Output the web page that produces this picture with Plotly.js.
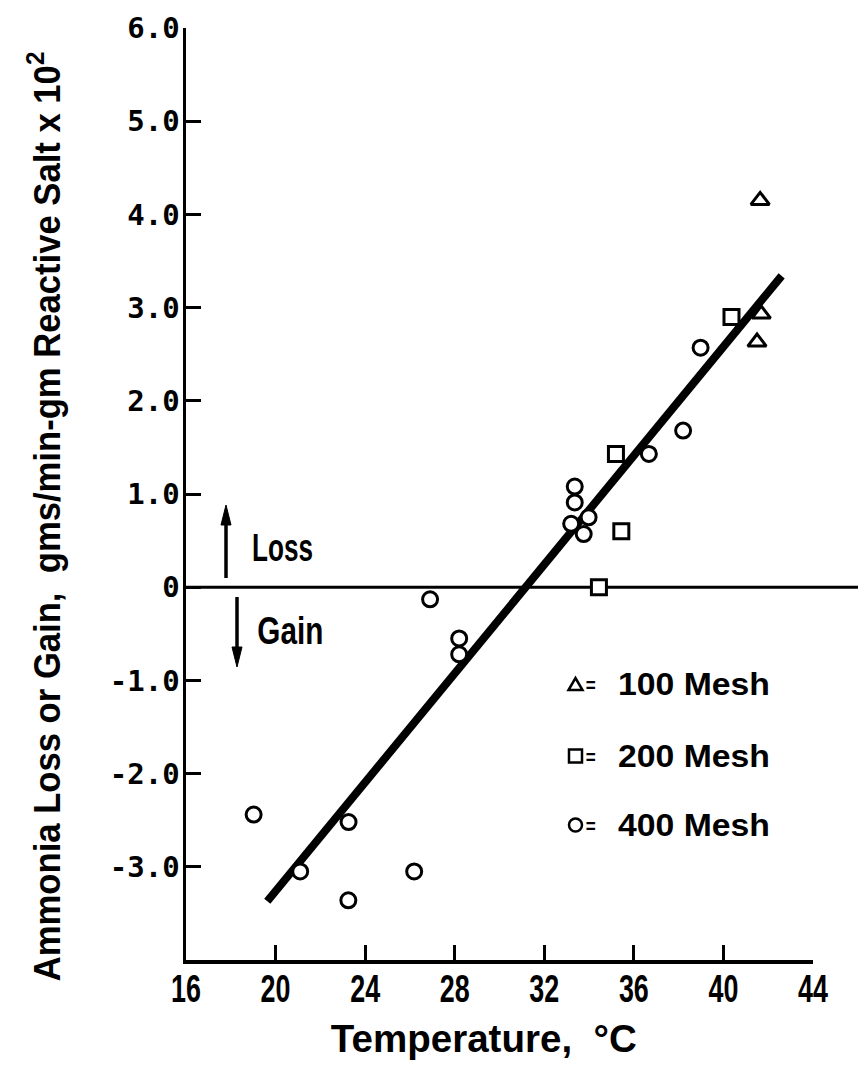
<!DOCTYPE html>
<html>
<head>
<meta charset="utf-8">
<script src="https://cdn.plot.ly/plotly-3.0.1.min.js"></script>
<style>html,body{margin:0;padding:0;background:#fff;}</style>
</head>
<body>
<div id="chart" style="width:858px;height:1066px;"></div>
<script>
// 100 Mesh (triangles)
const mesh100X = [41.64, 41.69, 41.5];
const mesh100Y = [4.15, 2.93, 2.63];
// 200 Mesh (squares)
const mesh200X = [35.2, 35.44, 34.44, 40.36];
const mesh200Y = [1.43, 0.60, 0.0, 2.90];
// 400 Mesh (circles)
const mesh400X = [19.02, 21.1, 23.26, 23.25, 26.19, 26.9, 28.2, 28.2, 33.36, 33.36, 33.2, 33.98, 33.76, 36.67, 38.2, 38.98];
const mesh400Y = [-2.44, -3.05, -2.52, -3.36, -3.05, -0.13, -0.55, -0.72, 1.08, 0.91, 0.68, 0.75, 0.57, 1.43, 1.68, 2.57];
// fitted line end points
const fitX = [19.63, 42.6];
const fitY = [-3.37, 3.34];
// ticks
const xTicks = [16, 20, 24, 28, 32, 36, 40, 44];
const xTickText = ['16', '20', '24', '28', '32', '36', '40', '44'];
const yTicks = [6, 5, 4, 3, 2, 1, 0, -1, -2, -3];
const yTickText = ['6.0', '5.0', '4.0', '3.0', '2.0', '1.0', '0', '-1.0', '-2.0', '-3.0'];
const legendLabels = ['100 Mesh', '200 Mesh', '400 Mesh'];

const sans = '"Liberation Sans", Arial, sans-serif';
const mono = '"DejaVu Sans Mono", "Liberation Mono", monospace';

const mk = (sym, size) => ({symbol: sym, size: size, color: '#fff', line: {color: '#000', width: 3}});

const traces = [
  {x: fitX, y: fitY, mode: 'lines', line: {color: '#000', width: 8}, hoverinfo: 'skip', showlegend: false},
  {x: mesh400X, y: mesh400Y, mode: 'markers', name: legendLabels[2], marker: mk('circle', 15)},
  {x: mesh200X, y: mesh200Y, mode: 'markers', name: legendLabels[1], marker: mk('square', 15)},
  {x: mesh100X, y: mesh100Y, mode: 'markers', name: legendLabels[0], marker: mk('triangle-up', 16)}
];

const W = 858, H = 1066, L = 186, R = 45, T = 28, B = 106;
const pw = W - L - R, ph = H - T - B;
const px = (p) => (p - L) / pw;
const py = (p) => (H - B - p) / ph;

// annotation helper: centre at (cx, cy) in pixels, target width tw (px) for horizontal squeeze
const targets = [];
function ann(cx, cy, text, size, tw, extra) {
  targets.push(tw);
  return Object.assign({xref: 'paper', yref: 'paper', x: px(cx), y: py(cy), xanchor: 'center', yanchor: 'middle',
    text: text, showarrow: false, font: {family: sans, size: size, color: '#000', weight: 'bold'}}, extra || {});
}

const annotations = [
  ann(44, 517, 'Ammonia Loss or Gain,  gms/min-gm Reactive Salt x 10<sup>2</sup>', 37, 930, {textangle: -90}),
  ann(484, 1038, 'Temperature,  °C', 39, 306),
  ann(282.5, 547, 'Loss', 39, 61),
  ann(290, 630, 'Gain', 39, 66),
];
const legY = [684, 756, 825];
for (let i = 0; i < 3; i++) {
  annotations.push(ann(590.5, legY[i] + 1, '=', 20, 10));
  annotations.push(ann(694, legY[i], legendLabels[i], 32, 152));
}

// arrows as shapes
function arrow(x, yTail, yTip) {
  const dir = yTip < yTail ? 1 : -1;
  const headLen = 20, headHalf = 5;
  const yBase = yTip + dir * headLen;
  return [
    {type: 'line', xref: 'paper', yref: 'paper', x0: px(x), x1: px(x), y0: py(yTail), y1: py(yBase),
     line: {color: '#000', width: 3.5}},
    {type: 'path', xref: 'paper', yref: 'paper', fillcolor: '#000', line: {color: '#000', width: 1},
     path: `M ${px(x - headHalf)},${py(yBase)} L ${px(x + headHalf)},${py(yBase)} L ${px(x)},${py(yTip)} Z`}
  ];
}

// legend key symbols as shapes
const kx = 575.5, kh = 6.5;
const keyLine = {color: '#000', width: 2.5};
const legendKeys = [
  {type: 'path', xref: 'paper', yref: 'paper', line: keyLine,
   path: `M ${px(kx - 7)},${py(legY[0] + 6)} L ${px(kx + 7)},${py(legY[0] + 6)} L ${px(kx)},${py(legY[0] - 6)} Z`},
  {type: 'rect', xref: 'paper', yref: 'paper', line: keyLine,
   x0: px(kx - kh), x1: px(kx + kh), y0: py(legY[1] - kh), y1: py(legY[1] + kh)},
  {type: 'circle', xref: 'paper', yref: 'paper', line: keyLine,
   x0: px(kx - kh), x1: px(kx + kh), y0: py(legY[2] - kh), y1: py(legY[2] + kh)}
];

const layout = {
  width: W, height: H,
  margin: {l: L, r: R, t: T, b: B},
  paper_bgcolor: '#fff', plot_bgcolor: '#fff',
  showlegend: false,
  xaxis: {
    range: [16, 44], tickvals: xTicks, ticktext: xTickText,
    showgrid: false, zeroline: false, showline: true, linecolor: '#000', linewidth: 3.5,
    ticks: 'inside', ticklen: 15, tickwidth: 3, tickcolor: '#000', ticklabelstandoff: -8,
    tickfont: {family: sans, size: 39, color: '#000', weight: 'bold'},
    fixedrange: true
  },
  yaxis: {
    range: [-4, 6], tickvals: yTicks, ticktext: yTickText,
    showgrid: false, zeroline: false, showline: true, linecolor: '#000', linewidth: 3.5,
    ticks: 'inside', ticklen: 15, tickwidth: 3, tickcolor: '#000', ticklabelstandoff: -3,
    tickfont: {family: mono, size: 29, color: '#000', weight: 'bold'},
    fixedrange: true
  },
  shapes: [
    {type: 'line', xref: 'paper', yref: 'y', x0: 0, x1: px(858), y0: 0, y1: 0,
     line: {color: '#000', width: 3}, layer: 'below'}
  ].concat(arrow(226, 578, 505), arrow(237, 597, 667), legendKeys),
  annotations: annotations
};

function squeeze(el, sx) {
  const bb = el.getBBox();
  const cx = bb.x + bb.width / 2, cy = bb.y + bb.height / 2;
  const prev = el.getAttribute('transform') || '';
  el.setAttribute('transform', (prev + ` translate(${cx},${cy}) scale(${sx},1) translate(${-cx},${-cy})`).trim());
}

Plotly.newPlot('chart', traces, layout, {staticPlot: true, displayModeBar: false}).then(function (gd) {
  gd.querySelectorAll('.xtick text').forEach(function (t) { squeeze(t, 0.69); });
  targets.forEach(function (tw, i) {
    const t = gd.querySelector('.annotation[data-index="' + i + '"] text.annotation-text');
    if (!t) return;
    const w = t.getBBox().width;
    if (w > 0) squeeze(t, tw / w);
  });
});
</script>
</body>
</html>
